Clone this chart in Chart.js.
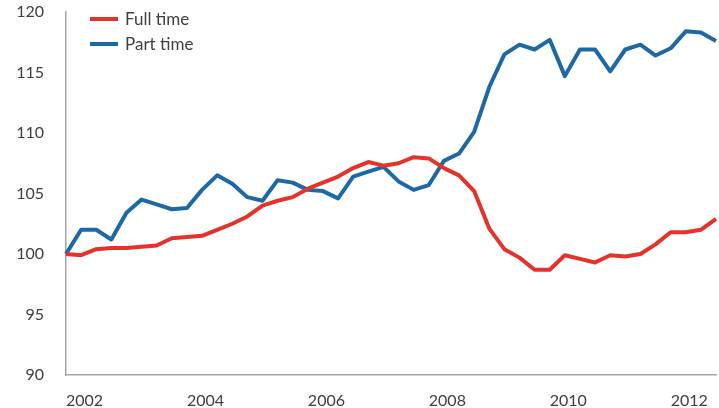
<!DOCTYPE html>
<html>
<head>
<meta charset="utf-8">
<script src="https://cdn.jsdelivr.net/npm/chart.js@4"></script>
<style>
  body { margin: 0; background: #fff; }
  #wrap { position: relative; width: 719px; height: 408px; overflow: hidden; }
  #legend { position: absolute; left: 90px; top: 6px; font-family: Lato, "Open Sans", sans-serif; font-size: 17px; color: #404040; }
  #legend div { height: 25px; line-height: 25px; display: flex; align-items: center; }
  #legend span.swatch { display: inline-block; width: 28px; height: 4px; margin-right: 7px; }
</style>
</head>
<body>
<div id="wrap">
  <canvas id="chart" width="719" height="408"></canvas>
  <div id="legend"></div>
</div>
<script>
// ==== Data: index, 2002 Q1 = 100 ====
const years = [2002, 2003, 2004, 2005, 2006, 2007, 2008, 2009, 2010, 2011, 2012];
const tickYears = ["2002", "2004", "2006", "2008", "2010", "2012"];

const fullTime = [
  100.0, 99.9, 100.4, 100.5, 100.5, 100.6, 100.7, 101.3,
  101.4, 101.5, 102.0, 102.5, 103.1, 104.0, 104.4, 104.7,
  105.4, 105.9, 106.4, 107.1, 107.6, 107.3, 107.5, 108.0,
  107.9, 107.1, 106.5, 105.2, 102.1, 100.4, 99.7, 98.7,
  98.7, 99.9, 99.6, 99.3, 99.9, 99.8, 100.0, 100.8,
  101.8, 101.8, 102.0, 102.9
];
const partTime = [
  100.0, 102.0, 102.0, 101.2, 103.4, 104.5, 104.1, 103.7,
  103.8, 105.3, 106.5, 105.8, 104.7, 104.4, 106.1, 105.9,
  105.3, 105.2, 104.6, 106.4, 106.8, 107.2, 106.0, 105.3,
  105.7, 107.7, 108.3, 110.1, 113.8, 116.5, 117.3, 116.9,
  117.7, 114.7, 116.9, 116.9, 115.1, 116.9, 117.3, 116.4,
  117.0, 118.4, 118.3, 117.6
];

// quarterly categories
const quarters = [];
years.forEach(y => {
  for (let q = 1; q <= 4; q++) quarters.push(y + " Q" + q);
});
const labels = quarters.slice(0, fullTime.length);

const series = [
  { label: "Full time", data: fullTime, color: "#e5322b" },
  { label: "Part time", data: partTime, color: "#1d69a6" }
];

const axisFont = { family: "Lato, 'Open Sans', sans-serif", size: 16 };

new Chart(document.getElementById("chart").getContext("2d"), {
  type: "line",
  data: {
    labels: labels,
    datasets: series.map(s => ({
      label: s.label,
      data: s.data,
      borderColor: s.color,
      backgroundColor: s.color,
      borderWidth: 4,
      pointRadius: 0,
      tension: 0,
      fill: false,
      borderJoinStyle: "round"
    }))
  },
  options: {
    responsive: false,
    animation: false,
    layout: { padding: { top: 12, right: 3, left: 0, bottom: 0 } },
    plugins: { legend: { display: false }, tooltip: { enabled: false } },
    scales: {
      x: {
        offset: false,
        grid: { display: false },
        border: { display: true, color: "#a6a6a6", width: 1.5 },
        ticks: {
          autoSkip: false,
          maxRotation: 0,
          align: "start",
          padding: 8,
          color: "#404040",
          font: axisFont,
          callback: function (value, index) {
            const y = this.getLabelForValue(value).slice(0, 4);
            return index % 4 === 0 && tickYears.includes(y) ? y : "";
          }
        },
        afterFit: scale => {
          scale.height = 33;
          scale.paddingLeft = 0;
          scale.paddingRight = 0;
        }
      },
      y: {
        min: 90,
        max: 120,
        grid: { display: false },
        border: { display: true, color: "#a6a6a6", width: 1.5 },
        ticks: { stepSize: 5, padding: 14, color: "#404040", font: axisFont },
        afterFit: scale => {
          scale.width = 66;
          scale.paddingTop = 0;
          scale.paddingBottom = 0;
        }
      }
    }
  }
});

// ==== Legend inside the plot ====
const legend = document.getElementById("legend");
series.forEach(s => {
  const row = document.createElement("div");
  const sw = document.createElement("span");
  sw.className = "swatch";
  sw.style.background = s.color;
  row.appendChild(sw);
  row.appendChild(document.createTextNode(s.label));
  legend.appendChild(row);
});
</script>
</body>
</html>
